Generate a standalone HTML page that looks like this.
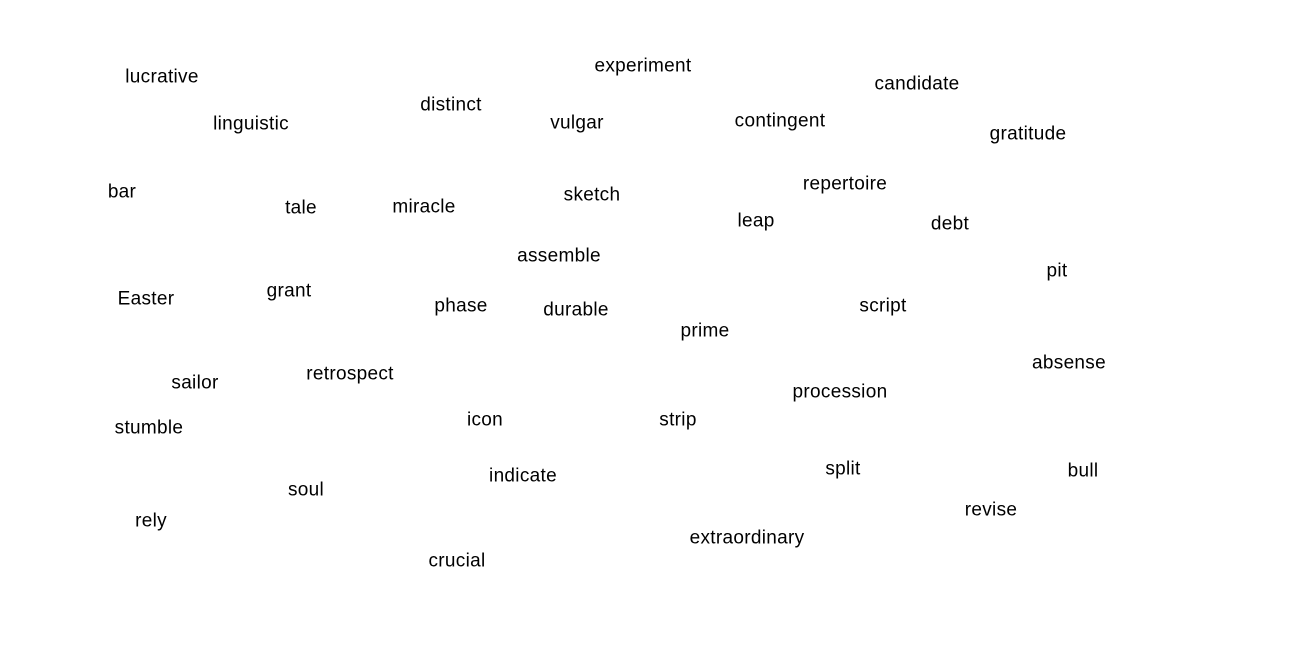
<!DOCTYPE html>
<html><head><meta charset="utf-8">
<style>
html,body{margin:0;padding:0;background:#fff;}
svg{display:block;}
text{font-family:"Liberation Sans","Noto Sans CJK SC",sans-serif;font-size:19px;letter-spacing:0.3px;fill:#000;}
</style></head>
<body>
<svg id="chart" width="1308" height="649" viewBox="0 0 1308 649"></svg>
<script>
const words = ["lucrative","experiment","candidate","distinct","linguistic","vulgar","contingent","gratitude","bar","repertoire","sketch","tale","miracle","leap","debt","assemble","pit","Easter","grant","phase","durable","script","prime","absense","sailor","retrospect","procession","stumble","icon","strip","split","bull","indicate","soul","revise","rely","extraordinary","crucial"];
const xs = [16.2,64.3,91.7,45.1,25.1,57.7,78.0,102.8,12.2,84.5,59.2,30.1,42.4,75.6,95.0,55.9,105.7,14.6,28.9,46.1,57.6,88.3,70.5,106.9,19.5,35.0,84.0,14.9,48.5,67.8,84.3,108.3,52.3,30.6,99.1,15.1,74.7,45.7];
const ys = [7.7,6.6,8.4,10.5,12.4,12.3,12.1,13.4,19.2,18.4,19.5,20.8,20.7,22.1,22.4,25.6,27.1,29.9,29.1,30.6,31.0,30.6,33.1,36.3,38.3,37.4,39.2,42.8,42.0,42.0,46.9,47.1,47.6,49.0,51.0,52.1,53.8,56.1];
const xScale = v => v * 10;
const yScale = v => v * 10;
const svg = document.getElementById('chart');
words.forEach((w, i) => {
  const t = document.createElementNS('http://www.w3.org/2000/svg', 'text');
  t.setAttribute('x', xScale(xs[i]));
  t.setAttribute('y', yScale(ys[i]));
  t.setAttribute('text-anchor', 'middle');
  t.setAttribute('dominant-baseline', 'central');
  
  
  t.textContent = w;
  svg.appendChild(t);
});
</script>
</body></html>
